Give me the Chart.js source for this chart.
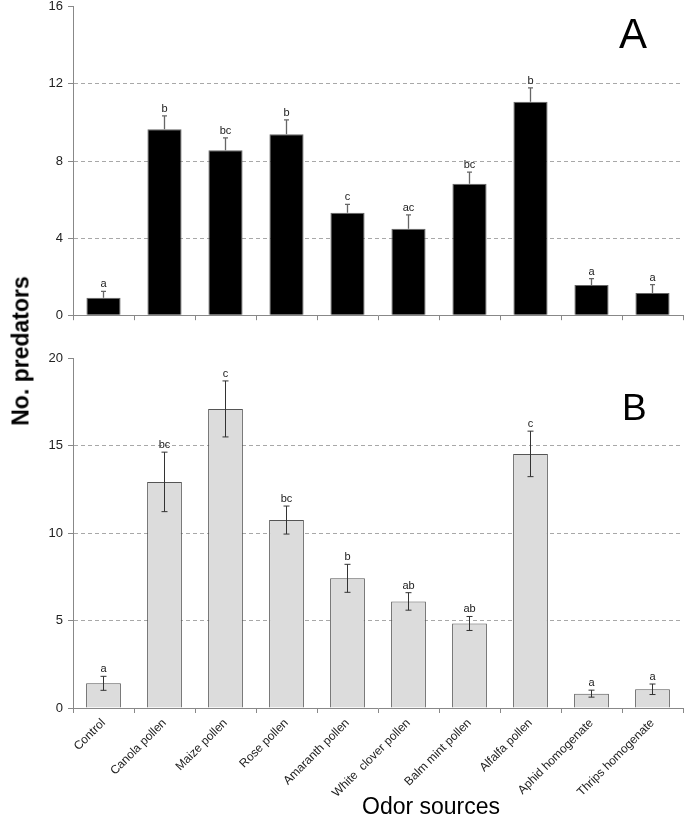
<!DOCTYPE html>
<html>
<head>
<meta charset="utf-8">
<script src="https://cdn.jsdelivr.net/npm/chart.js@4"></script>
<style>
  body { margin: 0; background: #fff; overflow: hidden; }
  #wrap { position: relative; width: 685px; height: 818px; overflow: hidden; }
  #boxA { position: absolute; left: 0; top: -6px; width: 685px; height: 334px; }
  #boxB { position: absolute; left: 0; top: 330px; width: 685px; height: 488px; }
  .ttl { position: absolute; font-family: 'Liberation Sans', Arial, sans-serif; color: #000; white-space: nowrap; line-height: 1; }
  #ytitle { left: 21px; top: 351px; font-size: 23px; font-weight: bold; transform: translate(-50%, -50%) rotate(-90deg); }
  #xtitle { left: 362px; top: 795px; font-size: 23px; }
</style>
</head>
<body>
<div id="wrap">
  <div id="boxA"><canvas id="chartA"></canvas></div>
  <div id="boxB"><canvas id="chartB"></canvas></div>
  <div class="ttl" id="ytitle">No. predators</div>
  <div class="ttl" id="xtitle">Odor sources</div>
</div>
<script>
// odor sources on the x axis (same for both panels)
const odorSources = ['Control', 'Canola pollen', 'Maize pollen', 'Rose pollen', 'Amaranth pollen',
  'White  clover pollen', 'Balm mint pollen', 'Alfalfa pollen', 'Aphid homogenate', 'Thrips homogenate'];

// panel A
const meanA = [0.9, 9.65, 8.56, 9.39, 5.32, 4.49, 6.82, 11.08, 1.57, 1.15];
const seA = [0.34, 0.69, 0.64, 0.74, 0.43, 0.72, 0.6, 0.71, 0.33, 0.44];
const lettersA = ['a', 'b', 'bc', 'b', 'c', 'ac', 'bc', 'b', 'a', 'a'];
const ticksA = [0, 4, 8, 12, 16];

// panel B
const meanB = [1.41, 12.92, 17.09, 10.74, 7.41, 6.09, 4.83, 14.52, 0.82, 1.07];
const seB = [0.4, 1.7, 1.6, 0.8, 0.8, 0.5, 0.4, 1.3, 0.2, 0.3];
const lettersB = ['a', 'bc', 'c', 'bc', 'b', 'ab', 'ab', 'c', 'a', 'a'];
const ticksB = [0, 5, 10, 15, 20];

const FONT = "'Liberation Sans', Arial, sans-serif";

// error bars, letters and the panel letter
const makeErrorPlugin = (means, errs, letters, cfg) => ({
  id: 'errorBars',
  afterDatasetsDraw(chart) {
    const { ctx } = chart;
    const y = chart.scales.y;
    const meta = chart.getDatasetMeta(0);
    ctx.save();
    meta.data.forEach((bar, i) => {
      const top = y.getPixelForValue(means[i] + errs[i]);
      const bot = cfg.twoSided ? y.getPixelForValue(means[i] - errs[i]) : bar.y;
      ctx.strokeStyle = cfg.color;
      ctx.lineWidth = cfg.width;
      ctx.beginPath();
      ctx.moveTo(bar.x, bot);
      ctx.lineTo(bar.x, top);
      ctx.moveTo(bar.x - cfg.cap, top);
      ctx.lineTo(bar.x + cfg.cap, top);
      if (cfg.twoSided) {
        ctx.moveTo(bar.x - cfg.cap, bot);
        ctx.lineTo(bar.x + cfg.cap, bot);
      }
      ctx.stroke();
      ctx.fillStyle = '#222';
      ctx.font = '11px ' + FONT;
      ctx.textAlign = 'center';
      ctx.textBaseline = 'alphabetic';
      ctx.fillText(letters[i], bar.x, top - 4);
    });
    ctx.fillStyle = '#000';
    ctx.font = cfg.panelSize + 'px ' + FONT;
    ctx.textAlign = 'left';
    ctx.fillText(cfg.panel, cfg.panelX, cfg.panelY);
    ctx.restore();
  },
});

const yAxis = (ticks) => ({
  min: ticks[0],
  max: ticks[ticks.length - 1],
  afterBuildTicks: (s) => { s.ticks = ticks.map((v) => ({ value: v })); },
  afterFit: (s) => { s.width = 73; },
  ticks: { color: '#222', font: { family: FONT, size: 13 }, padding: 5 },
  grid: {
    color: (c) => (c.tick && (c.tick.value === ticks[0] || c.tick.value === ticks[ticks.length - 1])) ? 'rgba(0,0,0,0)' : '#a8a8a8',
    tickColor: '#888',
    tickLength: 5,
    lineWidth: 1,
  },
  border: { display: true, color: '#888', width: 1, dash: [4, 3] },
});

new Chart(document.getElementById('chartA'), {
  type: 'bar',
  data: {
    labels: odorSources,
    datasets: [{
      data: meanA,
      backgroundColor: '#000',
      borderColor: '#666',
      borderWidth: 1,
      categoryPercentage: 1,
      barPercentage: 0.56,
    }],
  },
  options: {
    responsive: true,
    maintainAspectRatio: false,
    animation: false,
    layout: { padding: { top: 0, right: 2, left: 0, bottom: 0 } },
    plugins: { legend: { display: false }, tooltip: { enabled: false } },
    scales: {
      x: {
        offset: true,
        ticks: { display: false },
        grid: { offset: true, drawOnChartArea: false, color: '#888', tickLength: 5 },
        border: { color: '#888' },
        afterFit: (s) => { s.height = 10; },
      },
      y: yAxis(ticksA),
    },
  },
  plugins: [makeErrorPlugin(meanA, seA, lettersA, {
    twoSided: false, color: '#666', width: 1.3, cap: 2.5,
    panel: 'A', panelSize: 42, panelX: 619, panelY: 54,
  })],
});

new Chart(document.getElementById('chartB'), {
  type: 'bar',
  data: {
    labels: odorSources,
    datasets: [{
      data: meanB,
      backgroundColor: '#dcdcdc',
      borderColor: '#555',
      borderWidth: 1,
      categoryPercentage: 1,
      barPercentage: 0.57,
    }],
  },
  options: {
    responsive: true,
    maintainAspectRatio: false,
    animation: false,
    layout: { padding: { top: 28, right: 2, left: 0, bottom: 0 } },
    plugins: { legend: { display: false }, tooltip: { enabled: false } },
    scales: {
      x: {
        offset: true,
        ticks: {
          color: '#222', font: { family: FONT, size: 12 },
          minRotation: 45, maxRotation: 45, autoSkip: false, padding: 3,
        },
        grid: { offset: true, drawOnChartArea: false, color: '#888', tickLength: 5 },
        border: { color: '#888' },
        afterFit: (s) => { s.height = 110; },
      },
      y: yAxis(ticksB),
    },
  },
  plugins: [makeErrorPlugin(meanB, seB, lettersB, {
    twoSided: true, color: '#333', width: 1, cap: 3,
    panel: 'B', panelSize: 37, panelX: 622, panelY: 90,
  })],
});
</script>
</body>
</html>
